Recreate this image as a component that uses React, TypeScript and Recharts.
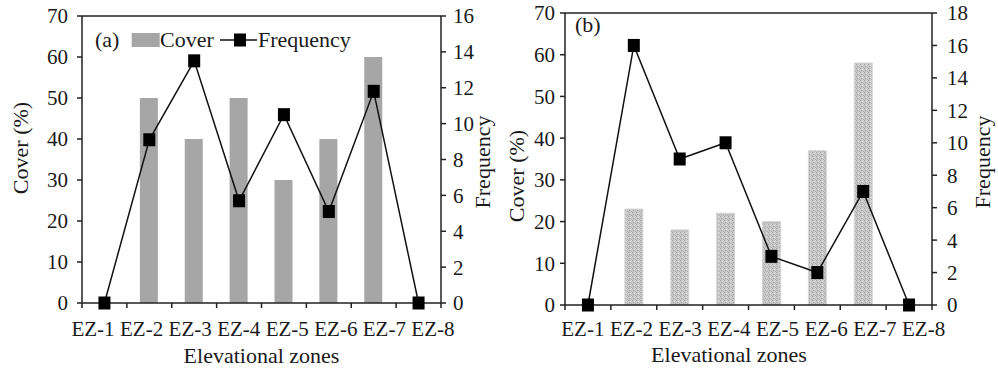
import React from 'react';
import { ComposedChart, Bar, Line, XAxis, YAxis, ReferenceLine, Legend } from 'recharts';

const categories = ['EZ-1', 'EZ-2', 'EZ-3', 'EZ-4', 'EZ-5', 'EZ-6', 'EZ-7', 'EZ-8'];
const coverA = [0, 50, 40, 50, 30, 40, 60, 0];
const freqA = [0, 9.1, 13.5, 5.7, 10.5, 5.1, 11.8, 0];
const coverB = [0, 23, 18, 22, 20, 37, 58, 0];
const freqB = [0, 16, 9, 10, 3, 2, 7, 0];
const coverTicks = [0, 10, 20, 30, 40, 50, 60, 70];
const freqTicksA = [0, 2, 4, 6, 8, 10, 12, 14, 16];
const freqTicksB = [0, 2, 4, 6, 8, 10, 12, 14, 16, 18];

const dataA = categories.map((c, i) => ({ zone: c, Cover: coverA[i], Frequency: freqA[i] }));
const dataB = categories.map((c, i) => ({ zone: c, Cover: coverB[i], Frequency: freqB[i] }));

const FONT = '"Liberation Serif", "Times New Roman", serif';
const INK = '#1a1a1a';
const AXIS = '#222';
const TICK_FS = 21;
const TITLE_FS = 22;

const SquareDot = (props: any) => {
  const { cx, cy, index } = props;
  if (cx == null || cy == null) return <g key={index} />;
  return <rect key={index} x={cx - 6} y={cy - 6.5} width={12} height={13} fill="#000" />;
};

function makeXTick(half: number, mid: number, labelMid: number, k: number, baseDy: number, count: number) {
  return (props: any) => {
    const { x, y, payload, index } = props;
    const lx = labelMid + (x - mid) * k;
    return (
      <g>
        <line x1={x - half} x2={x - half} y1={y} y2={y + 5} stroke={AXIS} strokeWidth={1.5} />
        {index === count - 1 && (
          <line x1={x + half} x2={x + half} y1={y} y2={y + 5} stroke={AXIS} strokeWidth={1.5} />
        )}
        <text x={lx} y={y + baseDy} textAnchor="middle" fontFamily={FONT} fontSize={TICK_FS} fill={INK}>
          {payload.value}
        </text>
      </g>
    );
  };
}

type PanelCfg = {
  data: any[];
  tag: string;
  freqTicks: number[];
  freqMax: number;
  top: number;
  leftW: number;
  rightW: number;
  xH: number;
  leftTickMargin: number;
  rightTickMargin: number;
  half: number;
  mid: number;
  labelMid: number;
  k: number;
  baseDy: number;
  barFill: string;
  barStroke: string;
  coverTitle: { x: number; y: number };
  freqTitle: { x: number; y: number };
  xTitle: { x: number; y: number };
  legendPos: { left: number; top: number };
  full: boolean;
  width: number;
};

function Panel({ cfg }: { cfg: PanelCfg }) {
  const legendContent = (props: any) => {
    const payload = props.payload || [];
    const barEntry = payload.find((p: any) => p.value === 'Cover');
    const lineEntry = payload.find((p: any) => p.value === 'Frequency');
    return (
      <svg width={290} height={34} style={{ display: 'block', overflow: 'visible' }}>
        <text x={5} y={22} fontFamily={FONT} fontSize={TITLE_FS} fill={INK}>{cfg.tag}</text>
        {cfg.full && (
          <g>
            <rect x={41.7} y={8} width={28} height={14} fill={cfg.barFill} />
            <text x={70} y={22} fontFamily={FONT} fontSize={TITLE_FS} fill={INK}>{barEntry ? barEntry.value : 'Cover'}</text>
            <line x1={130} x2={167} y1={15} y2={15} stroke="#111" strokeWidth={1.5} />
            <rect x={144} y={8.5} width={12} height={13} fill="#000" />
            <text x={168} y={22} fontFamily={FONT} fontSize={TITLE_FS} fill={INK}>{lineEntry ? lineEntry.value : 'Frequency'}</text>
          </g>
        )}
      </svg>
    );
  };

  return (
    <ComposedChart
      width={cfg.width}
      height={370}
      data={cfg.data}
      margin={{ top: cfg.top, right: 0, bottom: 0, left: 0 }}
    >
      <XAxis
        dataKey="zone"
        height={cfg.xH}
        interval={0}
        tickSize={0}
        tickMargin={0}
        tickLine={false}
        axisLine={{ stroke: AXIS, strokeWidth: 1.5 }}
        tick={makeXTick(cfg.half, cfg.mid, cfg.labelMid, cfg.k, cfg.baseDy, categories.length)}
        label={() => (
          <text x={cfg.xTitle.x} y={cfg.xTitle.y} textAnchor="middle" fontFamily={FONT} fontSize={TITLE_FS} fill={INK}>
            Elevational zones
          </text>
        )}
      />
      <YAxis
        yAxisId="left"
        width={cfg.leftW}
        domain={[0, 70]}
        ticks={coverTicks}
        interval={0}
        tickSize={5}
        tickMargin={cfg.leftTickMargin}
        axisLine={{ stroke: AXIS, strokeWidth: 1.5 }}
        tickLine={{ stroke: AXIS, strokeWidth: 1.5 }}
        tick={{ fill: INK, fontSize: TICK_FS, fontFamily: FONT }}
        label={() => (
          <text
            x={cfg.coverTitle.x}
            y={cfg.coverTitle.y}
            transform={`rotate(-90 ${cfg.coverTitle.x} ${cfg.coverTitle.y})`}
            textAnchor="middle"
            dominantBaseline="central"
            fontFamily={FONT}
            fontSize={TITLE_FS}
            fill={INK}
          >
            Cover (%)
          </text>
        )}
      />
      <YAxis
        yAxisId="right"
        orientation="right"
        width={cfg.rightW}
        domain={[0, cfg.freqMax]}
        ticks={cfg.freqTicks}
        interval={0}
        tickSize={5}
        tickMargin={cfg.rightTickMargin}
        axisLine={{ stroke: AXIS, strokeWidth: 1.5 }}
        tickLine={{ stroke: AXIS, strokeWidth: 1.5 }}
        tick={{ fill: INK, fontSize: TICK_FS, fontFamily: FONT }}
        label={() => (
          <text
            x={cfg.freqTitle.x}
            y={cfg.freqTitle.y}
            transform={`rotate(-90 ${cfg.freqTitle.x} ${cfg.freqTitle.y})`}
            textAnchor="middle"
            dominantBaseline="central"
            fontFamily={FONT}
            fontSize={TITLE_FS}
            fill={INK}
          >
            Frequency
          </text>
        )}
      />
      <ReferenceLine yAxisId="left" y={70} stroke={AXIS} strokeWidth={1.5} />
      <Legend
        layout="horizontal"
        verticalAlign="middle"
        align="center"
        content={legendContent}
        wrapperStyle={{ left: cfg.legendPos.left, top: cfg.legendPos.top, width: 290, height: 34 }}
      />
      <Bar
        yAxisId="left"
        dataKey="Cover"
        name="Cover"
        barSize={18}
        fill={cfg.barFill}
        stroke={cfg.barStroke}
        strokeWidth={1}
        isAnimationActive={false}
      />
      <Line
        yAxisId="right"
        dataKey="Frequency"
        name="Frequency"
        type="linear"
        stroke="#111"
        strokeWidth={1.5}
        dot={SquareDot}
        activeDot={false}
        isAnimationActive={false}
      />
    </ComposedChart>
  );
}

const cfgA: PanelCfg = {
  data: dataA,
  tag: '(a)',
  freqTicks: freqTicksA,
  freqMax: 16,
  top: 16,
  leftW: 82,
  rightW: 59,
  xH: 67,
  leftTickMargin: 9,
  rightTickMargin: 7,
  half: 22.44,
  mid: 261.5,
  labelMid: 263,
  k: 1.082,
  baseDy: 33,
  barFill: '#a6a6a6',
  barStroke: 'none',
  coverTitle: { x: 20, y: 148 },
  freqTitle: { x: 482, y: 162 },
  xTitle: { x: 261.5, y: 363 },
  legendPos: { left: 90, top: 25 },
  full: true,
  width: 500,
};

const cfgB: PanelCfg = {
  data: dataB,
  tag: '(b)',
  freqTicks: freqTicksB,
  freqMax: 18,
  top: 13,
  leftW: 65,
  rightW: 66,
  xH: 65,
  leftTickMargin: 5,
  rightTickMargin: 10,
  half: 22.92,
  mid: 248.3,
  labelMid: 253,
  k: 1.061,
  baseDy: 31,
  barFill: 'url(#stipple)',
  barStroke: '#d4d4d4',
  coverTitle: { x: 16, y: 176 },
  freqTitle: { x: 482.5, y: 162 },
  xTitle: { x: 229, y: 362 },
  legendPos: { left: 70, top: 10 },
  full: false,
  width: 498,
};

export default function App() {
  return (
    <div style={{ position: 'absolute', left: 0, top: 0, width: 998, height: 370, background: '#fff', overflow: 'hidden' }}>
      <svg width={0} height={0} style={{ position: 'absolute' }}>
        <defs>
          <pattern id="stipple" width={4} height={4} patternUnits="userSpaceOnUse">
            <rect width={4} height={4} fill="#c6c6c6" />
            <rect x={0} y={0} width={1} height={1} fill="#a3a3a3" />
            <rect x={2} y={1} width={1} height={1} fill="#dedede" />
            <rect x={1} y={2} width={1} height={1} fill="#a8a8a8" />
            <rect x={3} y={3} width={1} height={1} fill="#b0b0b0" />
            <rect x={3} y={0} width={1} height={1} fill="#d6d6d6" />
          </pattern>
        </defs>
      </svg>
      <div style={{ position: 'absolute', left: 0, top: 0 }}>
        <Panel cfg={cfgA} />
      </div>
      <div style={{ position: 'absolute', left: 500, top: 0 }}>
        <Panel cfg={cfgB} />
      </div>
    </div>
  );
}
